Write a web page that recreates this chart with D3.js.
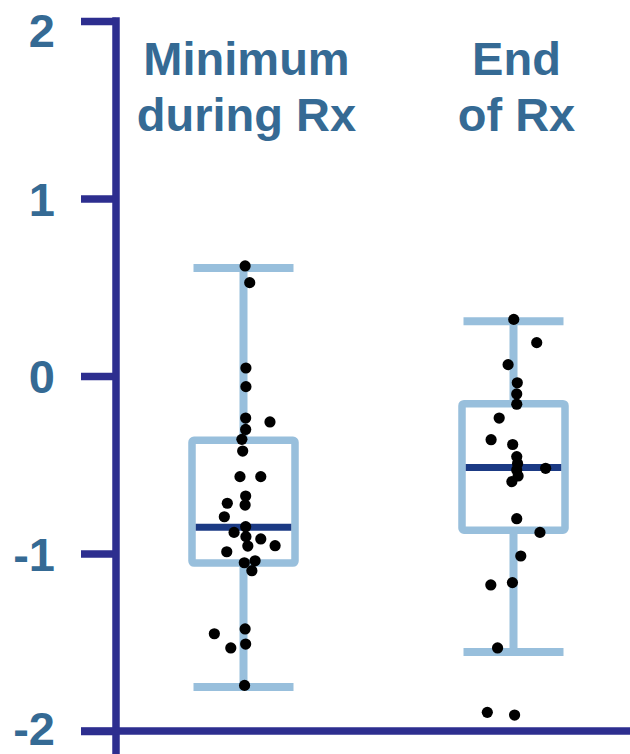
<!DOCTYPE html>
<html>
<head>
<meta charset="utf-8">
<script src="https://cdn.jsdelivr.net/npm/d3@7"></script>
<style>
    body{margin:0;background:#fff;}
    svg{display:block;}
</style>
</head>
<body>
<div class="canvas"></div>
<script>
var W = 630, H = 754;

//data
var categories = [['Minimum','during Rx'],['End','of Rx']];
var yTicks = [2,1,0,-1,-2];

//box stats per group
var whiskerHigh = [0.608, 0.308],
    q3 = [-0.362, -0.156],
    median = [-0.852, -0.515],
    q1 = [-1.054, -0.869],
    whiskerLow = [-1.752, -1.555];

//individual values and horizontal jitter (in group units)
var minValues = [0.62,0.526,0.045,-0.060,-0.237,-0.259,-0.301,-0.357,-0.423,-0.567,-0.567,-0.676,-0.727,-0.717,-0.793,-0.849,-0.881,-0.905,-0.918,-0.958,-0.956,-0.990,-1.052,-1.041,-1.097,-1.425,-1.452,-1.510,-1.532,-1.743];
var minJitter = [0.006,0.023,0.009,0.009,0.008,0.098,0.008,-0.006,-0.003,-0.013,0.064,0.008,0.006,-0.060,-0.071,0.008,-0.035,0.009,0.064,0.016,0.117,-0.062,0.003,0.043,0.031,0.006,-0.108,0.008,-0.047,0.004];
var endValues = [0.319,0.188,0.064,-0.038,-0.101,-0.159,-0.237,-0.359,-0.386,-0.454,-0.493,-0.520,-0.530,-0.563,-0.595,-0.804,-0.881,-1.014,-1.177,-1.164,-1.532,-1.895,-1.910];
var endJitter = [0.001,0.086,-0.020,0.014,0.012,0.012,-0.053,-0.083,-0.003,0.012,0.015,0.119,0.012,0.017,-0.006,0.012,0.098,0.027,-0.084,-0.004,-0.059,-0.097,0.004];

var axisColor = '#2d2e8f',
    labelColor = '#356a94',
    boxColor = '#98bfdc',
    medColor = '#1b3a84',
    font = 'Arial, "Liberation Sans", sans-serif';

var axisX = 116;

var svg = d3.select('.canvas')
    .append('svg')
    .attr('width',W)
    .attr('height',H);

var y = d3.scaleLinear().domain([-2,2]).range([731,21]);
//groups sit at 0.5 and 1.5
var x = d3.scaleLinear().domain([0,2]).range([108.5,648.5]);

var points = [];
minValues.forEach(function(v,i){ points.push({g:0, v:v, j:minJitter[i]}); });
endValues.forEach(function(v,i){ points.push({g:1, v:v, j:endJitter[i]}); });

//y axis
var yAxis = d3.axisLeft(y)
    .tickValues(yTicks)
    .tickSize(35)
    .tickPadding(26)
    .tickFormat(d3.format('d'));

var gy = svg.append('g')
    .attr('transform','translate('+axisX+',0)')
    .call(yAxis);

gy.select('.domain').remove();
gy.selectAll('.tick line')
    .attr('stroke',axisColor)
    .attr('stroke-width',7.5);
// keep the end labels inside the picture
gy.selectAll('.tick text')
    .attr('fill',labelColor)
    .attr('font-family',font)
    .attr('font-weight','bold')
    .attr('font-size',47)
    .attr('dy','0.36em')
    .attr('y',function(d){ return Math.max(0, 30 - y(d)) + Math.min(0, 728 - y(d)); })
    .text(function(d){ return d < 0 ? '-' + Math.abs(d) : d; });

//axis lines
svg.append('line')
    .attr('x1',axisX).attr('x2',axisX)
    .attr('y1',y(2)-3.75).attr('y2',H)
    .attr('stroke',axisColor)
    .attr('stroke-width',7.5);

svg.append('line')
    .attr('x1',axisX-35).attr('x2',W)
    .attr('y1',y(-2)).attr('y2',y(-2))
    .attr('stroke',axisColor)
    .attr('stroke-width',7.5);

//titles
var titles = svg.selectAll('.title')
    .data(categories)
    .enter()
    .append('text')
    .attr('class','title')
    .attr('text-anchor','middle')
    .attr('fill',labelColor)
    .attr('font-family',font)
    .attr('font-weight','bold')
    .attr('font-size',47);

titles.selectAll('tspan')
    .data(function(d,i){ return d.map(function(t){ return {t:t, g:i}; }); })
    .enter()
    .append('tspan')
    .attr('x',function(d){ return x(d.g+0.5) + 3; })
    .attr('y',function(d,i){ return 75 + i*56; })
    .text(function(d){ return d.t; });

//box plots
var capHalf = 50, boxHalf = 51.5;
var boxes = svg.selectAll('.box')
    .data(categories)
    .enter()
    .append('g')
    .attr('class','box');

boxes.append('line')
    .attr('x1',function(d,i){ return x(i+0.5); })
    .attr('x2',function(d,i){ return x(i+0.5); })
    .attr('y1',function(d,i){ return y(whiskerHigh[i]); })
    .attr('y2',function(d,i){ return y(whiskerLow[i]); })
    .attr('stroke',boxColor)
    .attr('stroke-width',8);

boxes.selectAll('.cap')
    .data(function(d,i){ return [{g:i,v:whiskerHigh[i]},{g:i,v:whiskerLow[i]}]; })
    .enter()
    .append('line')
    .attr('class','cap')
    .attr('x1',function(d){ return x(d.g+0.5) - capHalf; })
    .attr('x2',function(d){ return x(d.g+0.5) + capHalf; })
    .attr('y1',function(d){ return y(d.v); })
    .attr('y2',function(d){ return y(d.v); })
    .attr('stroke',boxColor)
    .attr('stroke-width',8);

boxes.append('rect')
    .attr('x',function(d,i){ return x(i+0.5) - boxHalf; })
    .attr('width',boxHalf*2)
    .attr('y',function(d,i){ return y(q3[i]); })
    .attr('height',function(d,i){ return y(q1[i]) - y(q3[i]); })
    .attr('rx',2)
    .attr('fill','#fff')
    .attr('stroke',boxColor)
    .attr('stroke-width',7.5)
    .attr('stroke-linejoin','round');

boxes.append('line')
    .attr('x1',function(d,i){ return x(i+0.5) - boxHalf + 3.75; })
    .attr('x2',function(d,i){ return x(i+0.5) + boxHalf - 3.75; })
    .attr('y1',function(d,i){ return y(median[i]); })
    .attr('y2',function(d,i){ return y(median[i]); })
    .attr('stroke',medColor)
    .attr('stroke-width',7);

//dots
svg.selectAll('.dot')
    .data(points)
    .enter()
    .append('circle')
    .attr('class','dot')
    .attr('cx',function(d){ return x(d.g + 0.5 + d.j); })
    .attr('cy',function(d){ return y(d.v); })
    .attr('r',5.6)
    .attr('fill','#000');
</script>
</body>
</html>
